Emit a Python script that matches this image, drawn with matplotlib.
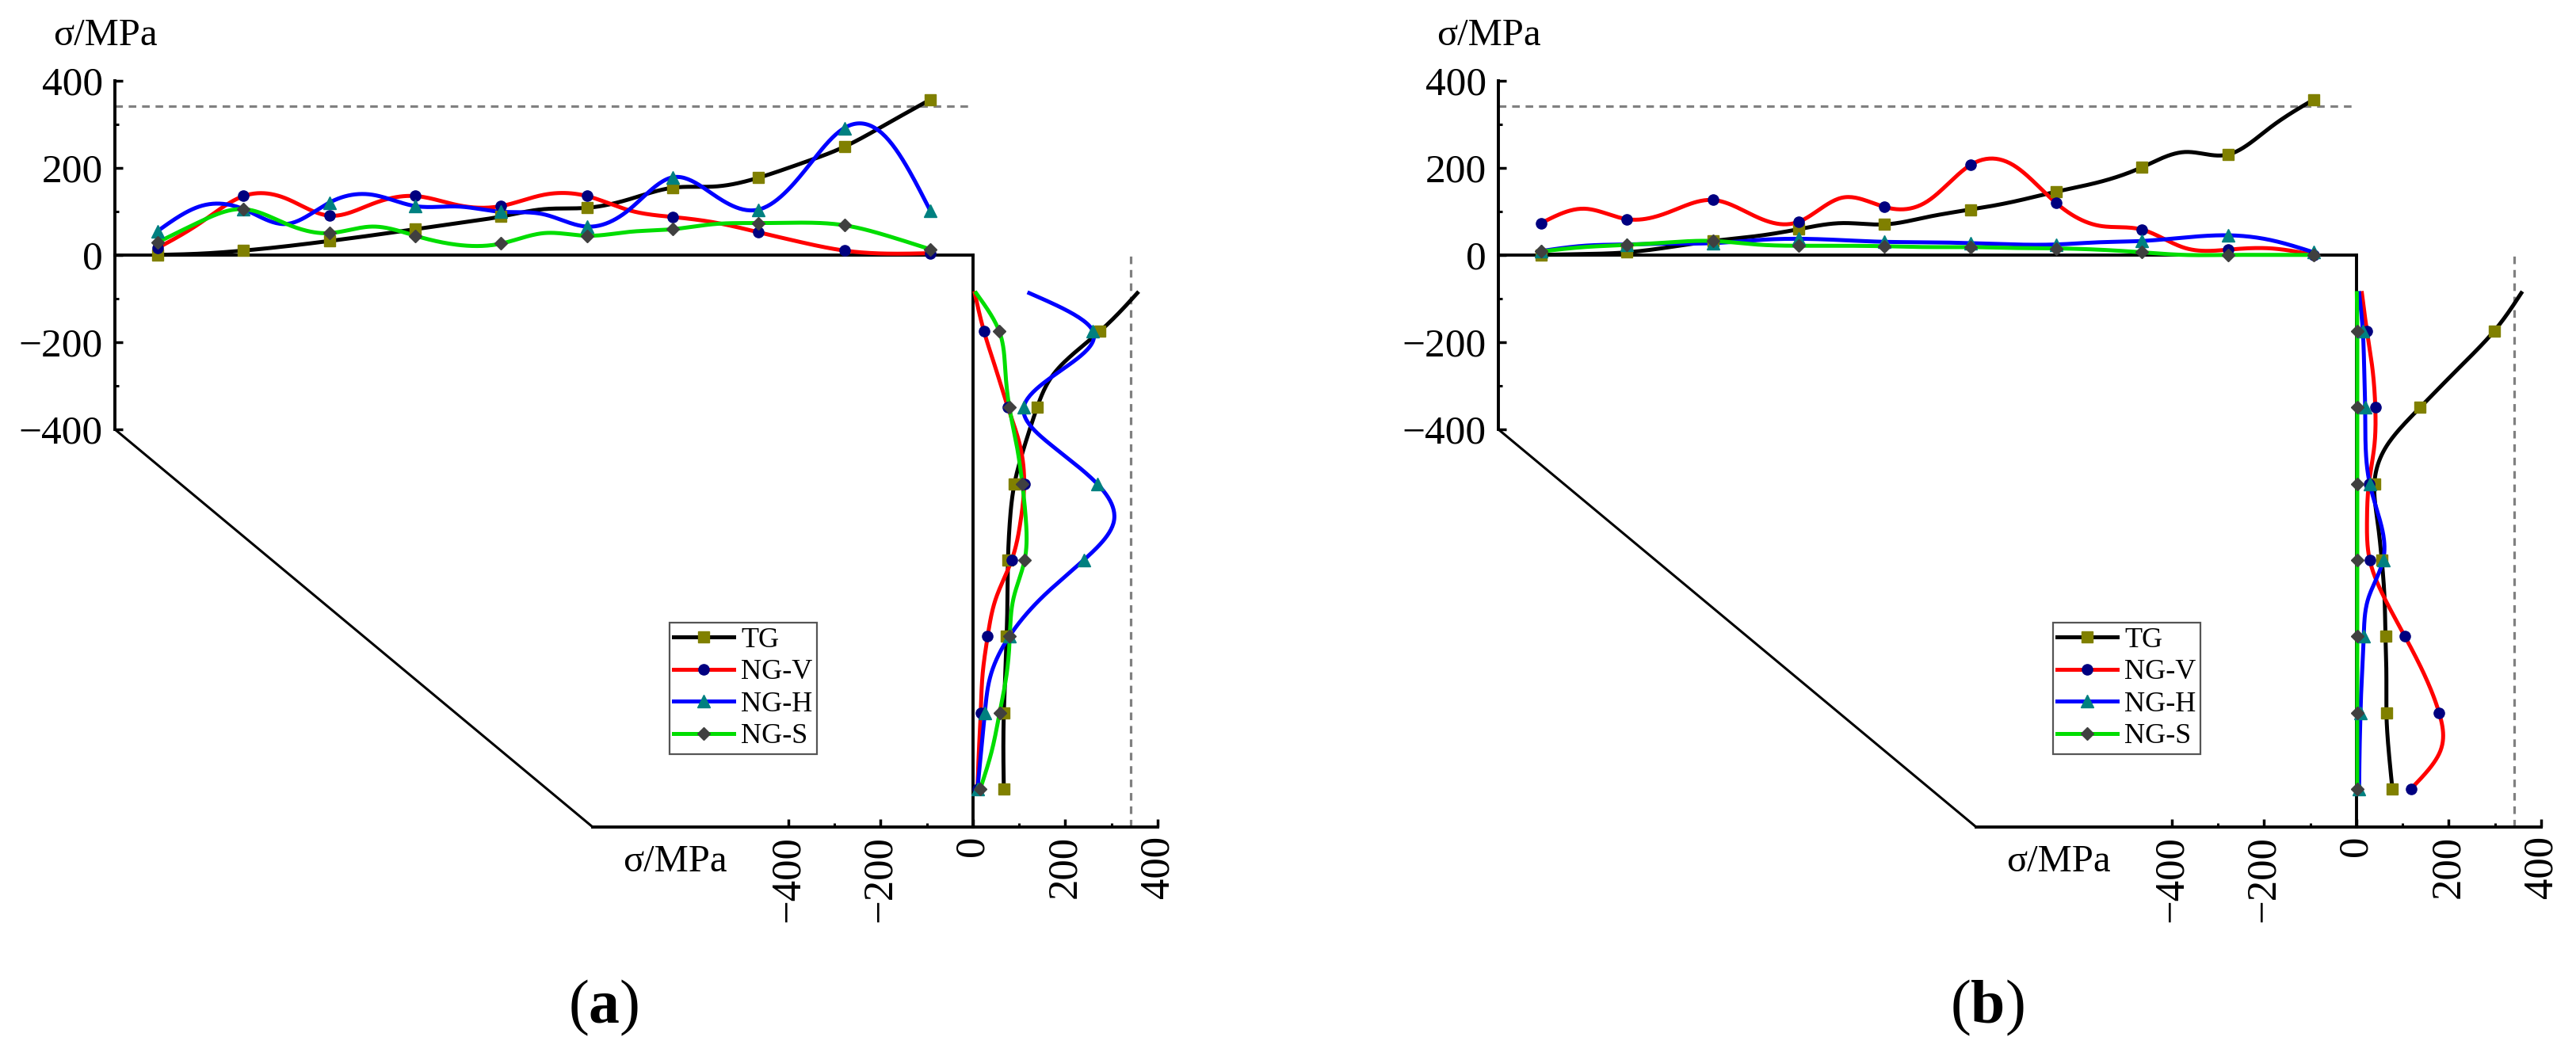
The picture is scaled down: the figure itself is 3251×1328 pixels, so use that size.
import numpy as np
import matplotlib
matplotlib.use('Agg')
import matplotlib.pyplot as plt
from matplotlib.lines import Line2D
from matplotlib.patches import ConnectionPatch

plt.rcParams['font.family'] = ['Liberation Serif', 'DejaVu Serif']
plt.rcParams['mathtext.fontset'] = 'custom'
plt.rcParams['mathtext.rm'] = 'Liberation Serif'
plt.rcParams['mathtext.bf'] = 'Liberation Serif:bold'

# --- data (MPa) ---
# top edge: 19 points (markers on every second one)
tg_a_h = [0, 3, 10, 20, 32, 45, 59, 73, 88, 105, 108, 128, 154, 157, 177, 210, 248, 301, 356]
ngv_a_h = [16, 74, 135, 129, 90, 117, 135, 114, 112, 138, 135, 102, 87, 74, 52, 29, 10, 3, 4]
ngh_a_h = [55, 112, 105, 71, 120, 138, 112, 111, 99, 93, 65, 105, 178, 135, 104, 184, 291, 267, 102]
ngs_a_h = [29, 77, 105, 71, 50, 65, 44, 23, 26, 50, 44, 53, 59, 71, 73, 74, 68, 44, 13]

tg_b_h = [0, 2, 6, 18, 32, 43, 59, 73, 70, 87, 104, 122, 145, 167, 201, 236, 230, 293, 356]
ngv_b_h = [73, 106, 82, 99, 126, 88, 76, 131, 110, 123, 206, 206, 119, 67, 58, 16, 12, 15, 0]
ngh_b_h = [9, 21, 24, 26, 27, 34, 37, 34, 30, 29, 27, 24, 24, 29, 32, 40, 45, 34, 6]
ngs_b_h = [8, 18, 23, 29, 32, 24, 21, 21, 20, 18, 18, 16, 15, 12, 6, 0, 0, 0, 0]

# right edge: 14 points from the corner downwards (markers on every second one)
tg_a_v = [356, 275, 183, 139, 112, 90, 80, 76, 75, 73, 70, 67, 66, 67]
ngv_a_v = [4, 24, 50, 76, 102, 111, 103, 84, 50, 32, 21, 17, 13, 10]
ngh_a_v = [122, 260, 194, 110, 171, 269, 305, 240, 148, 79, 39, 26, 18, 10]
ngs_a_v = [7, 57, 70, 79, 95, 107, 115, 112, 88, 80, 73, 58, 41, 16]

tg_b_v = [357, 298, 219, 138, 66, 39, 46, 55, 61, 63, 65, 65, 70, 78]
ngv_b_v = [12, 23, 35, 41, 39, 27, 23, 29, 61, 105, 147, 179, 182, 118]
ngh_b_v = [6, 14, 17, 19, 20, 29, 52, 58, 26, 16, 12, 9, 7, 6]
ngs_b_v = [1, 2, 2, 2, 2, 2, 2, 2, 2, 2, 2, 2, 2, 2]

yield_line = 342
names = ['TG', 'NG-V', 'NG-H', 'NG-S']
line_colors = ['#000000', '#ff0000', '#0000ff', '#00dd00']
markers = ['s', 'o', '^', 'D']
marker_colors = ['#808000', '#000080', '#008080', '#404040']
marker_sizes = [9.5, 9.5, 11, 8.5]


def smooth(pos, val, n=25):
    # natural cubic spline, like Origin's spline connection
    pos = np.asarray(pos, float)
    val = np.asarray(val, float)
    k = len(pos)
    h = np.diff(pos)
    A = np.zeros((k, k))
    r = np.zeros(k)
    A[0, 0] = A[-1, -1] = 1
    for i in range(1, k - 1):
        A[i, i - 1] = h[i - 1]
        A[i, i] = 2 * (h[i - 1] + h[i])
        A[i, i + 1] = h[i]
        r[i] = 6 * ((val[i + 1] - val[i]) / h[i] - (val[i] - val[i - 1]) / h[i - 1])
    m = np.linalg.solve(A, r)
    t = np.linspace(pos[0], pos[-1], n * (k - 1) + 1)
    j = np.clip(np.searchsorted(pos, t, side='right') - 1, 0, k - 2)
    a = pos[j + 1] - t
    b = t - pos[j]
    hj = h[j]
    s = (m[j] * a ** 3 + m[j + 1] * b ** 3) / (6 * hj) \
        + (val[j] / hj - m[j] * hj / 6) * a + (val[j + 1] / hj - m[j + 1] * hj / 6) * b
    return t, s


W, H = 3251, 1328
fig = plt.figure(figsize=(W / 100, H / 100), dpi=100)


def px_axes(l, r, t, b):
    return fig.add_axes([l / W, 1 - b / H, (r - l) / W, (b - t) / H])


def draw_panel(dx, tag, h_series, v_series):
    ax_h = px_axes(145 + dx, 1228 + dx, 101.6, 542)
    ax_v = px_axes(748 + dx, 1461 + dx, 321.8, 1044)
    for ax in (ax_h, ax_v):
        ax.set_facecolor('none')
        ax.spines['top'].set_visible(False)
        ax.spines['right'].set_visible(False)
        for s in ax.spines.values():
            s.set_linewidth(2.8)

    # top edge
    pos_h = np.arange(len(h_series[0])) * 0.5 + 0.5
    ax_h.set_xlim(0, 10)
    ax_h.set_ylim(-400, 400)
    ax_h.spines['bottom'].set_position(('data', 0))
    ax_h.spines['left'].set_bounds(-400, 400)
    ax_h.set_xticks([])
    ax_h.set_yticks([-400, -200, 0, 200, 400])
    ax_h.set_yticks([-300, -100, 100, 300], minor=True)
    ax_h.tick_params(axis='y', which='major', direction='in', length=7.5, width=2.5, labelsize=37, pad=11)
    ax_h.tick_params(axis='y', which='minor', direction='in', length=3.5, width=2.2)
    ax_h.axhline(yield_line, xmin=0, xmax=1, color='#808080', lw=2.3, ls=(0, (3, 2.3)), zorder=1)

    # right edge
    pos_v = np.arange(len(v_series[0])) * 0.5 + 0.5
    ax_v.set_xlim(-823, 400)
    ax_v.set_ylim(7.5, 0)
    ax_v.spines['left'].set_position(('data', 0))
    ax_v.set_yticks([])
    ax_v.set_xticks([-400, -200, 0, 200, 400])
    ax_v.set_xticks([-300, -100, 100, 300], minor=True)
    ax_v.tick_params(axis='x', which='major', direction='in', length=7.5, width=2.5, labelsize=38,
                     pad=8, labelrotation=90)
    ax_v.tick_params(axis='x', which='minor', direction='in', length=3.5, width=2.2)
    ax_v.axvline(yield_line, ymin=0, ymax=1, color='#808080', lw=2.3, ls=(0, (3, 2.3)), zorder=1)

    for i in range(4):
        t, s = smooth(pos_h, h_series[i])
        ax_h.plot(t, s, color=line_colors[i], lw=3.6, zorder=3, clip_on=False)
        ax_h.plot(pos_h[::2], np.asarray(h_series[i])[::2], ls='none', marker=markers[i],
                  ms=marker_sizes[i], mfc=marker_colors[i], mec=marker_colors[i], zorder=4, clip_on=False)
        t, s = smooth(pos_v, v_series[i])
        ax_v.plot(s, t, color=line_colors[i], lw=3.6, zorder=3, clip_on=False)
        ax_v.plot(np.asarray(v_series[i])[1::2], pos_v[1::2], ls='none', marker=markers[i],
                  ms=marker_sizes[i], mfc=marker_colors[i], mec=marker_colors[i], zorder=4, clip_on=False)

    # slanted edge joining the two axes
    fig.add_artist(ConnectionPatch(xyA=(0, 0), coordsA=ax_h.transAxes, xyB=(0, 0), coordsB=ax_v.transAxes,
                                   color='black', lw=2.2))

    handles = [Line2D([], [], color=line_colors[i], lw=3.6, marker=markers[i], ms=marker_sizes[i],
                      mfc=marker_colors[i], mec=marker_colors[i]) for i in range(4)]
    leg = fig.legend(handles, names, loc='upper left', bbox_to_anchor=((845 + dx) / W, 1 - 786 / H),
                     fontsize=26, frameon=True, fancybox=False, edgecolor='#555555', framealpha=1,
                     handlelength=2.1, handletextpad=0.25, labelspacing=0.2, borderpad=0.15,
                     borderaxespad=0)
    leg.get_frame().set_linewidth(1.6)

    fig.text((133 + dx) / W, 1 - 45 / H, 'σ/MPa', fontsize=35, ha='center', va='center')
    fig.text((852 + dx) / W, 1 - 1088 / H, 'σ/MPa', fontsize=35, ha='center', va='center')
    fig.text((762 + dx) / W, 1 - 1272 / H, r'($\mathbf{' + tag + '}$)', fontsize=56, ha='center', va='center')


draw_panel(0, 'a', [tg_a_h, ngv_a_h, ngh_a_h, ngs_a_h], [tg_a_v, ngv_a_v, ngh_a_v, ngs_a_v])
draw_panel(1746, 'b', [tg_b_h, ngv_b_h, ngh_b_h, ngs_b_h], [tg_b_v, ngv_b_v, ngh_b_v, ngs_b_v])

fig.savefig('out.png', dpi=100)
